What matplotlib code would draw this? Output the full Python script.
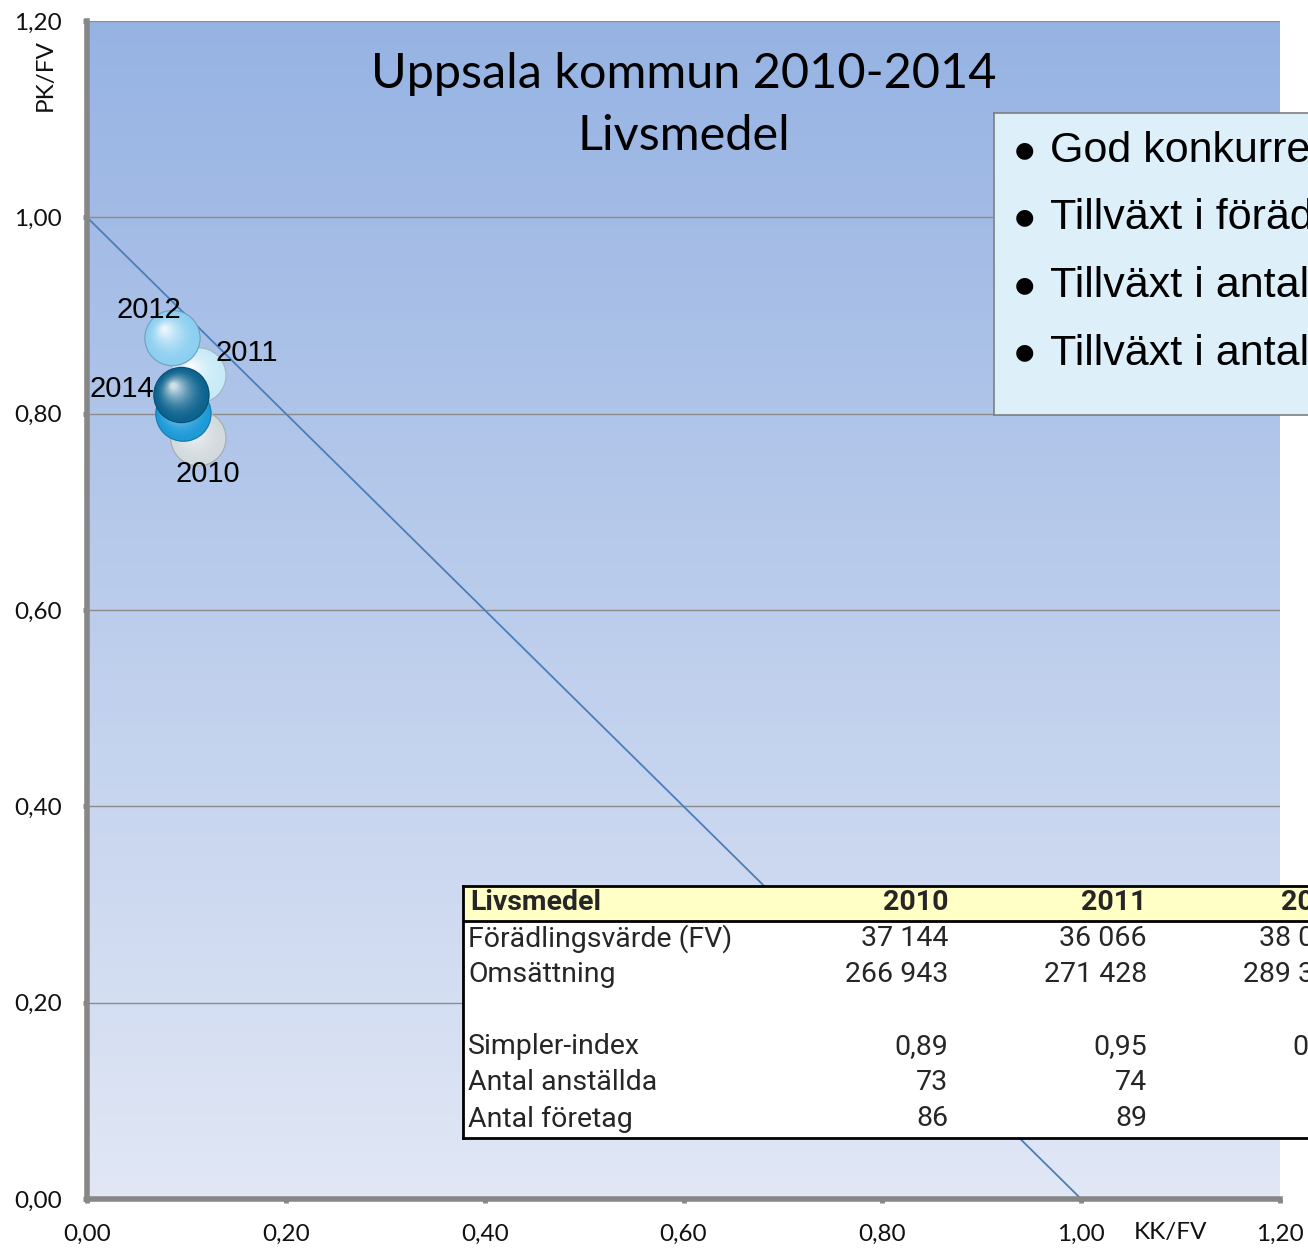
import numpy as np
import matplotlib
matplotlib.use("Agg")
import matplotlib.pyplot as plt
from matplotlib.colors import to_rgb
from matplotlib.patches import Rectangle
from matplotlib.ticker import FuncFormatter, MultipleLocator
from matplotlib.transforms import offset_copy

# bubble data (KK/FV, PK/FV) per year
years = ['2010', '2011', '2012', '2013', '2014']
kk_fv = [0.112, 0.112, 0.086, 0.097, 0.095]
pk_fv = [0.775, 0.839, 0.877, 0.800, 0.819]
show_label = [True, True, True, False, True]
label_offsets = [(7, -26), (35, 16), (-17, 20), (0, 0), (-43, 4)]  # points
sphere_colors = ['#d3dade', '#c8eaf7', '#8ccff0', '#1d9ad8', '#0d638f']

# table data
table_title = 'Livsmedel'
table_years = ['2010', '2011', '2012']
forad = [37144, 36066, 38041]
omsattning = [266943, 271428, 289356]
simpler = [0.89, 0.95, 0.96]
anstallda = [73, 74, 76]
foretag = [86, 89, 91]

bullets = ['God konkurrenskraft', 'Tillväxt i förädlingsvärde',
           'Tillväxt i antal anställda', 'Tillväxt i antal företag']

W, H = 1308, 1249


def fx(px):
    return px / W


def fy(py):
    return 1 - py / H


def num(v):
    return f'{v:,}'.replace(',', ' ')


def dec(v):
    return f'{v:.2f}'.replace('.', ',')


def mix(c1, c2, t):
    a, b = np.array(to_rgb(c1)), np.array(to_rgb(c2))
    return tuple(a + (b - a) * t)


def draw_sphere(ax, fig, x, y, color, z, size=1650):
    r = np.sqrt(size) / 2  # radius in points
    dark = mix(color, '#000000', 0.22)
    ax.scatter([x], [y], s=size, color=dark, edgecolors='none', zorder=z)
    n = 20
    for i in range(n):
        t = i / (n - 1)
        s = size * (0.96 - 0.85 * t) ** 2
        c = mix(color, '#ffffff', 0.8 * t ** 1.8)
        tr = offset_copy(ax.transData, fig=fig, x=-0.28 * r * t, y=0.32 * r * t, units='points')
        ax.scatter([x], [y], s=s, color=c, edgecolors='none', zorder=z + 0.01 * (i + 1), transform=tr)


fig = plt.figure(figsize=(W / 100, H / 100), dpi=100)
fig.patch.set_facecolor('white')

ax = fig.add_axes([fx(87), fy(1199), fx(1280) - fx(87), fy(21) - fy(1199)])
ax.set_xlim(0, 1.2)
ax.set_ylim(0, 1.2)

# background gradient
grad = np.linspace(0, 1, 256).reshape(-1, 1)
top, bottom = np.array(to_rgb('#96b3e3')), np.array(to_rgb('#e1e7f5'))
img = top + (bottom - top) * grad[..., None]
ax.imshow(img, extent=[0, 1, 0, 1], transform=ax.transAxes, aspect='auto', zorder=0)

ax.xaxis.set_major_locator(MultipleLocator(0.2))
ax.yaxis.set_major_locator(MultipleLocator(0.2))
fmt = FuncFormatter(lambda v, p: dec(v))
ax.xaxis.set_major_formatter(fmt)
ax.yaxis.set_major_formatter(fmt)
ax.grid(axis='y', color='#8c8c8c', linewidth=1.0, zorder=1)
ax.set_axisbelow(True)
for side in ['top', 'right']:
    ax.spines[side].set_visible(False)
for side in ['left', 'bottom']:
    ax.spines[side].set_color('#878787')
    ax.spines[side].set_linewidth(4.0)
    ax.spines[side].set_zorder(5)
ax.tick_params(length=3, width=3.5, color='#878787', labelsize=17.5, labelcolor='#111111')
ax.tick_params(axis='x', pad=15)
ax.tick_params(axis='y', pad=15)
for lab in ax.get_xticklabels() + ax.get_yticklabels():
    lab.set_family('Lato')

# diagonal 1 - x
ax.plot([0, 1], [1, 0], color='#4a7ebb', linewidth=1.3, zorder=2)

for i, yr in enumerate(years):
    draw_sphere(ax, fig, kk_fv[i], pk_fv[i], sphere_colors[i], 10 + i)
    if show_label[i]:
        ax.annotate(yr, (kk_fv[i], pk_fv[i]), xytext=label_offsets[i],
                    textcoords='offset points', ha='center', va='center',
                    fontsize=21, family='Liberation Sans', color='black', zorder=20)

ax.text(0.5, 0.955, 'Uppsala kommun 2010-2014', transform=ax.transAxes, ha='center',
        va='center', fontsize=35, family='Lato')
ax.text(0.5, 0.902, 'Livsmedel', transform=ax.transAxes, ha='center',
        va='center', fontsize=35, family='Lato')

fig.text(fx(45), fy(75), 'PK/FV', rotation=90, ha='center', va='center',
         fontsize=17.5, family='Lato', color='#111111')
fig.text(fx(1170), fy(1232), 'KK/FV', ha='center', va='center',
         fontsize=17.5, family='Lato', color='#111111')

# bullet box (runs past the right edge, like the source)
bx = fig.add_axes([fx(994), fy(415), fx(1400) - fx(994), fy(113) - fy(415)])
bx.set_facecolor('#ddf0fa')
bx.set_xticks([])
bx.set_yticks([])
for sp in bx.spines.values():
    sp.set_color('#7f7f7f')
    sp.set_linewidth(1.2)
bx.set_xlim(0, 406)
bx.set_ylim(302, 0)
for i, t in enumerate(bullets):
    yy = 38 + 67.5 * i
    bx.text(30, yy - 1, '\u25cf', ha='center', va='center', fontsize=16,
            family='DejaVu Sans', color='black')
    bx.text(56, yy, t, ha='left', va='center',
            fontsize=31, family='Liberation Sans', color='black')

# data table
tx = fig.add_axes([fx(463), fy(1138), fx(1600) - fx(463), fy(886) - fy(1138)])
tx.set_xlim(0, 1137)
tx.set_ylim(252, 0)
tx.set_xticks([])
tx.set_yticks([])
tx.set_facecolor('white')
for sp in tx.spines.values():
    sp.set_color('black')
    sp.set_linewidth(2)
tx.add_patch(Rectangle((0, 0), 1137, 35, facecolor='#ffffc6', edgecolor='none'))
tx.axhline(35, color='black', linewidth=2)

tfont = dict(family='Roboto', fontsize=20.5, color='#262626', va='center')
tx.text(7, 17, table_title, ha='left', fontweight='bold', **tfont)
rows = [('Förädlingsvärde (FV)', [num(v) for v in forad]),
        ('Omsättning', [num(v) for v in omsattning]),
        ('', ['', '', '']),
        ('Simpler-index', [dec(v) for v in simpler]),
        ('Antal anställda', [str(v) for v in anstallda]),
        ('Antal företag', [str(v) for v in foretag])]
col_right = [485, 684, 883]
for j, yr in enumerate(table_years):
    tx.text(col_right[j], 17, yr, ha='right', fontweight='bold', **tfont)
for i, (lab, vals) in enumerate(rows):
    yy = 53 + 36 * i
    tx.text(5, yy, lab, ha='left', **tfont)
    for j, v in enumerate(vals):
        tx.text(col_right[j], yy, v, ha='right', **tfont)

fig.savefig('out.png', dpi=100)
